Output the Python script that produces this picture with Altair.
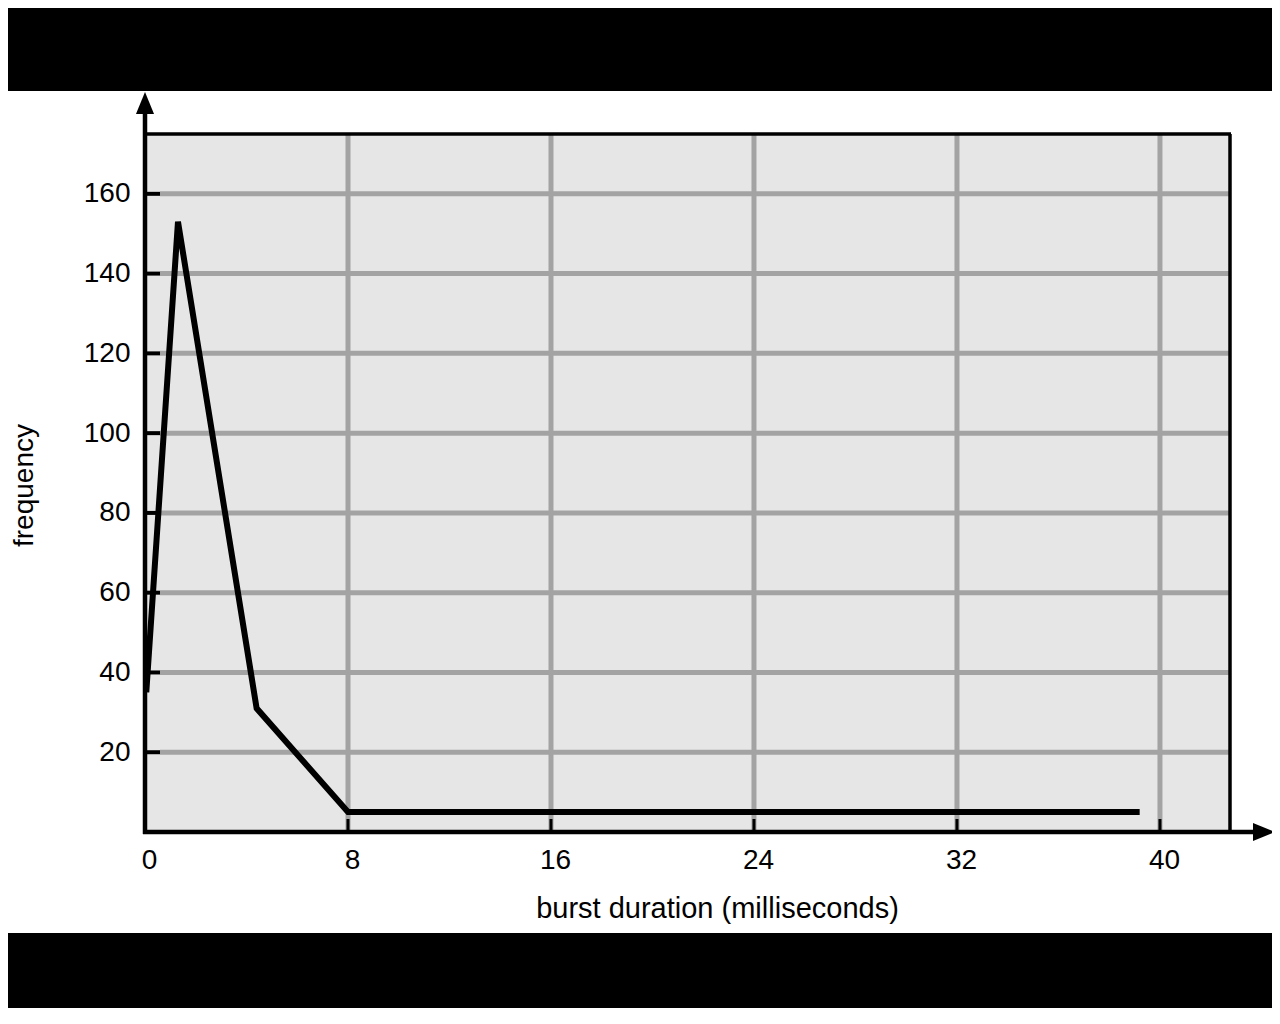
import altair as alt
import pandas as pd

# ---- data ----
burst_ms = [0.05, 1.3, 4.4, 8.0, 39.2]
frequency = [35, 153, 31, 5, 5]
x_ticks = [0, 8, 16, 24, 32, 40]
y_ticks = [20, 40, 60, 80, 100, 120, 140, 160]
x_title = "burst duration (milliseconds)"
y_title = "frequency"

X_MAX = 42.76
Y_MAX = 175.0
W, H = 1085, 698
FONT = "Liberation Sans"
GRID = "#a3a3a3"
PLOT_BG = "#e6e6e6"

xs = alt.Scale(domain=[0, X_MAX], nice=False, zero=False)
ys = alt.Scale(domain=[0, Y_MAX], nice=False, zero=False)

one = pd.DataFrame({"a": [0]})
line_df = pd.DataFrame({"t": burst_ms, "f": frequency})
xt_df = pd.DataFrame({"t": [v for v in x_ticks if v > 0]})
yt_df = pd.DataFrame({"f": y_ticks})

label_axis_common = dict(
    domain=False,
    ticks=False,
    grid=False,
    zindex=2,
    labelFont=FONT,
    labelFontSize=28,
    labelColor="black",
    titleFont=FONT,
    titleFontWeight="normal",
    titleColor="black",
    titleAlign="center",
    titleBaseline="alphabetic",
)
x_axis = alt.Axis(
    values=x_ticks,
    labelFlush=False,
    labelPadding=14,
    labelOffset=4,
    title=x_title,
    titleFontSize=29,
    titleX=572,
    titleY=85,
    **label_axis_common,
)
y_axis = alt.Axis(
    values=y_ticks,
    labelPadding=15,
    title=y_title,
    titleFontSize=28,
    titleAngle=270,
    titleX=-113,
    titleY=351,
    **label_axis_common,
)
X = alt.X("t:Q", scale=xs, axis=x_axis)
Y = alt.Y("f:Q", scale=ys, axis=y_axis)

# white sheet
sheet = alt.Chart(one).mark_rect(color="white").encode(
    x=alt.value(-140), x2=alt.value(1135), y=alt.value(-43), y2=alt.value(799)
)
# plot background
plot_bg = alt.Chart(one).mark_rect(color=PLOT_BG).encode(
    x=alt.value(0), x2=alt.value(W), y=alt.value(0), y2=alt.value(H)
)
# grid lines
vgrid = alt.Chart(xt_df).mark_rule(color=GRID, strokeWidth=5).encode(
    x=X, y=alt.value(0), y2=alt.value(H)
)
hgrid = alt.Chart(yt_df).mark_rule(color=GRID, strokeWidth=5).encode(
    y=Y, x=alt.value(15), x2=alt.value(W + 1)
)
# inward ticks
xtick = alt.Chart(xt_df).mark_rule(color="black", strokeWidth=3).encode(
    x=X, y=alt.value(685), y2=alt.value(H)
)
ytick = alt.Chart(yt_df).mark_rule(color="black", strokeWidth=4).encode(
    y=Y, x=alt.value(0), x2=alt.value(15)
)
# frame top and right
top_border = alt.Chart(one).mark_rule(color="black", strokeWidth=3.5).encode(
    x=alt.value(0), x2=alt.value(W + 1), y=alt.value(0)
)
right_border = alt.Chart(one).mark_rule(color="black", strokeWidth=3.5).encode(
    x=alt.value(W), y=alt.value(0), y2=alt.value(H)
)
# data line
data_line = alt.Chart(line_df).mark_line(
    color="black", strokeWidth=6, strokeJoin="miter", strokeCap="butt"
).encode(x=X, y=Y, order=alt.Order("t:Q"))

# axis lines with arrow heads
y_axis_line = alt.Chart(one).mark_rule(color="black", strokeWidth=4.5).encode(
    x=alt.value(0), y=alt.value(-22), y2=alt.value(H + 2)
)
x_axis_line = alt.Chart(one).mark_rule(color="black", strokeWidth=4.5).encode(
    y=alt.value(H), x=alt.value(-2), x2=alt.value(1110)
)
up_arrow = alt.Chart(one).mark_point(
    shape="M0,-1L0.41,0L-0.41,0Z", filled=True, opacity=1, color="black", size=1936, strokeWidth=0
).encode(x=alt.value(0), y=alt.value(-20))
right_arrow = alt.Chart(one).mark_point(
    shape="M0,-0.41L1,0L0,0.41Z", filled=True, opacity=1, color="black", size=1936, strokeWidth=0
).encode(x=alt.value(1108), y=alt.value(H))

chart = (
    alt.layer(
        sheet, plot_bg, vgrid, hgrid, xtick, ytick, top_border, right_border,
        data_line, y_axis_line, x_axis_line, up_arrow, right_arrow,
    )
    .properties(
        width=W,
        height=H,
        background="black",
        autosize=alt.AutoSizeParams(type="none"),
        padding={"left": 137, "top": 126, "right": 42, "bottom": 176},
    )
    .configure_view(stroke=None)
)

chart.save("out.html", embed_options={"renderer": "svg", "actions": False})
